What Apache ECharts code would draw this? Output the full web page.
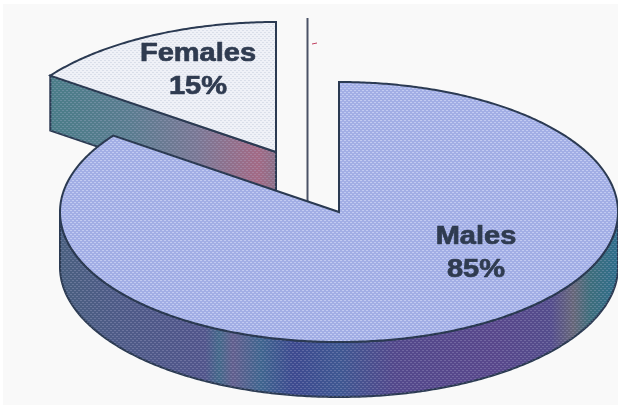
<!DOCTYPE html>
<html>
<head>
<meta charset="utf-8">
<style>html,body{margin:0;padding:0;background:#fff}#c{width:618px;height:407px}</style>
<script src="https://cdn.jsdelivr.net/npm/echarts@6/dist/echarts.min.js"></script>
</head>
<body>
<div id="c"></div>
<script>
const categories = ['Males', 'Females'];
const values = [85, 15];

const chart = echarts.init(document.getElementById('c'), null, {renderer: 'canvas'});

// projection of the tilted pie
const CX = 339, CY = 212, RX = 279, RY = 130, DEPTH = 55;
const INK = '#2b3a52';
const total = values.reduce((a, b) => a + b, 0);
const offsets = {Males: [0, 0], Females: [-63, -60]};
const labelAt = {Males: [476, 254], Females: [198, 71]};
const fills = {Males: '#a2aee5', Females: '#eff1f7'};

function dots(color, step) {
  const c = document.createElement('canvas');
  c.width = step; c.height = step;
  const g = c.getContext('2d');
  g.fillStyle = color;
  g.fillRect(0, 0, 2, 1);
  g.fillRect(step / 2, step / 2, 2, 1);
  return c;
}
const hatch = {
  Males: {image: dots('rgba(215,222,250,0.6)', 4), repeat: 'repeat'},
  Females: {image: dots('rgba(185,195,212,0.4)', 4), repeat: 'repeat'},
  side: {image: dots('rgba(190,190,225,0.25)', 4), repeat: 'repeat'}
};

const hStops = (x0, x1, stops) => ({
  type: 'linear', x: x0, y: 0, x2: x1, y2: 0, global: true,
  colorStops: stops.map(s => ({offset: s[0], color: s[1]}))
});
const maleSide = hStops(60, 618, [
  [0, '#4a6080'], [0.1, '#4f5c88'], [0.26, '#52568c'], [0.285, '#44698a'], [0.31, '#625f8e'],
  [0.36, '#40668f'], [0.42, '#3e4a90'], [0.5, '#3f5892'], [0.6, '#54498c'], [0.78, '#59488c'],
  [0.88, '#544d8c'], [0.92, '#676779'], [0.95, '#3e6e7c'], [1, '#2f6e8c']
]);
const femaleSide = hStops(50, 276, [
  [0, '#4a7d88'], [0.35, '#5a7d90'], [0.65, '#7a7895'], [0.92, '#a36a85'], [1, '#8a7088']
]);

const pt = (t, ox, oy, dz) => [
  CX + ox + RX * Math.sin(t),
  CY + oy + dz - RY * Math.cos(t)
];
function arc(a0, a1, ox, oy, dz) {
  const n = Math.max(4, Math.ceil(Math.abs(a1 - a0) / 0.01)), out = [];
  for (let i = 0; i <= n; i++) out.push(pt(a0 + (a1 - a0) * i / n, ox, oy, dz));
  return out;
}
const poly = (points, fill, stroke) => ({
  type: 'polygon',
  shape: {points},
  style: {fill, stroke: stroke || null, lineWidth: stroke ? 2 : 0, lineJoin: 'miter'}
});

function sliceRender(idx) {
  return function () {
    const name = categories[idx];
    const before = values.slice(0, idx).reduce((a, b) => a + b, 0);
    const a0 = before / total * Math.PI * 2;
    const a1 = (before + values[idx]) / total * Math.PI * 2;
    const [ox, oy] = offsets[name];
    const apex = [CX + ox, CY + oy];
    const apexLow = [apex[0], apex[1] + DEPTH];
    const children = [];
    // outer wall, where the rim faces the viewer
    const w0 = Math.max(a0, Math.PI / 2), w1 = Math.min(a1, Math.PI * 3 / 2);
    if (w1 > w0) {
      const wall = arc(w0, w1, ox, oy, 0).concat(arc(w1, w0, ox, oy, DEPTH));
      children.push(poly(wall, name === 'Males' ? maleSide : femaleSide, INK));
      children.push(poly(wall, hatch.side));
    }
    // cut wall on the slice's starting edge, seen from the front
    if (a0 > Math.PI) {
      const e = pt(a0, ox, oy, 0), el = pt(a0, ox, oy, DEPTH);
      const cut = [e, apex, apexLow, el];
      children.push(poly(cut, femaleSide, INK));
      children.push(poly(cut, hatch.side));
    }
    // top face
    const top = [apex].concat(arc(a0, a1, ox, oy, 0));
    children.push(poly(top, fills[name]));
    children.push(poly(top, hatch[name]));
    children.push(poly(top, 'rgba(0,0,0,0)', INK));
    // label
    children.push({
      type: 'text',
      x: labelAt[name][0], y: labelAt[name][1],
      scaleX: 1.16,
      style: {
        text: name + '\n' + values[idx] + '%',
        font: 'bold 25px "Liberation Sans", Arial, sans-serif',
        lineHeight: 33,
        fill: '#2f3b50',
        stroke: '#2f3b50',
        lineWidth: 0.7,
        textAlign: 'center',
        textVerticalAlign: 'middle'
      }
    });
    return {type: 'group', children};
  };
}

chart.setOption({
  animation: false,
  backgroundColor: '#ffffff',
  graphic: [
    {type: 'rect', z: -10, silent: true, shape: {x: 3, y: 4, width: 615, height: 401}, style: {fill: '#f9f9f9'}},
    {type: 'line', z: -8, silent: true, shape: {x1: 307.5, y1: 18, x2: 307.5, y2: 201}, style: {stroke: '#4a5266', lineWidth: 2}},
    {type: 'line', z: -8, silent: true, shape: {x1: 312, y1: 44, x2: 317, y2: 43}, style: {stroke: '#c04060', lineWidth: 1}}
  ],
  series: [1, 0].map((idx, order) => ({
    type: 'custom',
    name: categories[idx],
    coordinateSystem: 'none',
    silent: true,
    z: 2 + order,
    data: [values[idx]],
    renderItem: sliceRender(idx)
  }))
});
</script>
</body>
</html>
